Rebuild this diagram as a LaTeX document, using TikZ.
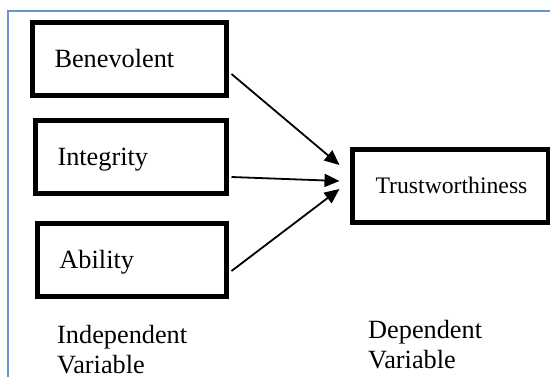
\documentclass[tikz,border=0pt]{standalone}
\usepackage{fontspec}
\setmainfont{Liberation Serif}
\usetikzlibrary{arrows.meta,calc}
\definecolor{framebl}{RGB}{105,148,208}
\tikzset{
  varbox/.style={draw=black, line width=5pt, fill=white, minimum height=73pt,
    inner xsep=22pt, inner ysep=0pt, align=left, text height=17.5pt, text depth=0pt,
    font=\fontsize{26.3}{30}\selectfont},
  depbox/.style={draw=black, line width=5pt, fill=white, minimum height=73pt,
    minimum width=196pt, inner sep=0pt, text height=15.7pt, text depth=0pt,
    font=\fontsize{23.7}{28}\selectfont},
  lbl/.style={anchor=north west, inner sep=0pt, align=left,
    font=\fontsize{26.3}{30}\selectfont},
  conn/.style={line width=1.8pt, -{Triangle[length=15pt,width=13pt]}}
}
\begin{document}
\begin{tikzpicture}[x=1pt,y=-1pt]
\useasboundingbox (0,0) rectangle (550,376);
\clip (0,0) rectangle (550,376);
\fill[white] (0,0) rectangle (550,376);
\draw[framebl, line width=2pt] (8,11) rectangle (570,400);
\node[varbox, text width=150pt] (ben) at (129.5,59) {Benevolent};
\node[varbox, text width=147pt] (int) at (131,157) {Integrity};
\node[varbox, text width=145pt] (abl) at (132,260) {Ability};
\node[depbox] (tr) at (450,186) {\hspace*{3pt}Trustworthiness};
\node[lbl] (ind) at (57,325.5) {Independent\\Variable};
\node[lbl] (dep) at (368,320.5) {Dependent\\Variable};
\draw[conn] ($(ben.east)+(2.5,15)$) -- ($(tr.west)+(-10,-21)$);
\draw[conn] ($(int.east)+(2.5,20)$) -- ($(tr.west)+(-10,-5)$);
\draw[conn] ($(abl.east)+(2.5,11)$) -- ($(tr.west)+(-10,3)$);
\end{tikzpicture}
\end{document}
